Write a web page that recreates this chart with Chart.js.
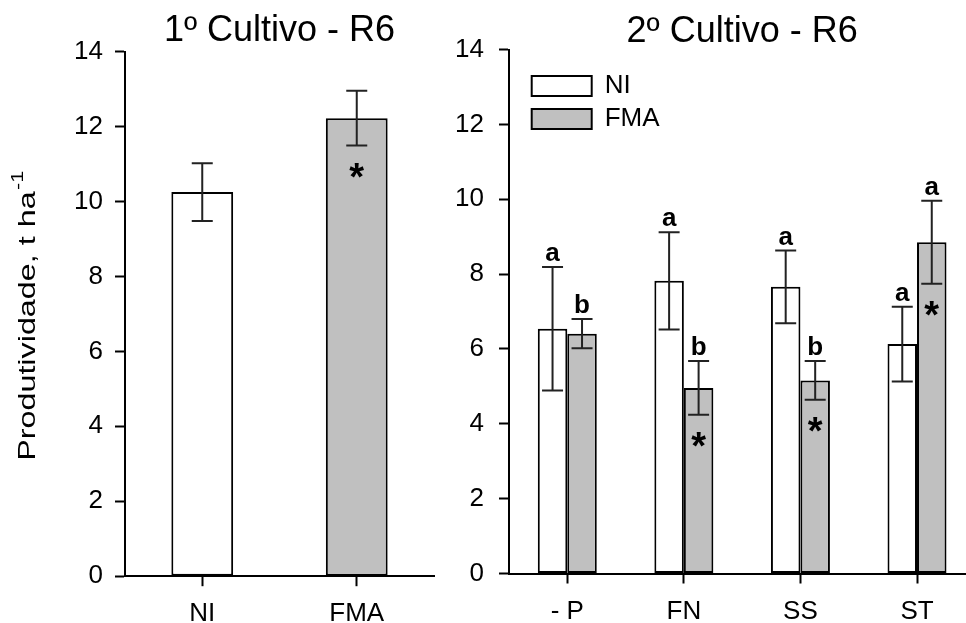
<!DOCTYPE html>
<html>
<head>
<meta charset="utf-8">
<script src="https://cdn.jsdelivr.net/npm/chart.js@4.4.1/dist/chart.umd.min.js"></script>
<style>
html,body{margin:0;padding:0;background:#fff;overflow:hidden;width:966px;height:623px;position:relative;}
canvas{position:absolute;top:0;}
#c1{left:0;}
#c2{left:400px;}
</style>
</head>
<body>
<canvas id="c1" width="470" height="623"></canvas>
<canvas id="c2" width="600" height="623"></canvas>
<script>
// ---------- data ----------
const leftTitle = '1º Cultivo - R6';
const rightTitle = '2º Cultivo - R6';
const yAxisTitle = 'Produtividade, t ha';
const yAxisTitleSup = '-1';

const leftCategories = ['NI', 'FMA'];
const leftMeans = [10.25, 12.22];
const leftErrors = [0.77, 0.73];
const leftStars = ['', '*'];

const rightCategories = ['- P', 'FN', 'SS', 'ST'];
const seriesNames = ['NI', 'FMA'];
const niMeans = [6.54, 7.82, 7.66, 6.13];
const niErrors = [1.65, 1.30, 0.97, 1.00];
const fmaMeans = [6.41, 4.96, 5.16, 8.85];
const fmaErrors = [0.39, 0.72, 0.52, 1.11];
const niLetters = ['a', 'a', 'a', 'a'];
const fmaLetters = ['b', 'b', 'b', 'a'];
const niStars = ['', '', '', ''];
const fmaStars = ['', '*', '*', '*'];

const yMin = 0, yMax = 14, yStep = 2;

// ---------- styles ----------
const FONT = "'Liberation Sans', Arial, Helvetica, sans-serif";
const WHITE = '#ffffff';
const GRAY = '#c0c0c0';
const INK = '#000000';
Chart.defaults.font.family = FONT;
Chart.defaults.color = INK;

const errorBarPlugin = {
  id: 'errorBars',
  afterDatasetsDraw(chart, args, opts) {
    const ctx = chart.ctx;
    const yScale = chart.scales.y;
    const cap = 10.5;
    chart.data.datasets.forEach((ds, i) => {
      const meta = chart.getDatasetMeta(i);
      const errs = (opts.errors && opts.errors[i]) || [];
      const letters = (opts.letters && opts.letters[i]) || [];
      const stars = (opts.stars && opts.stars[i]) || [];
      meta.data.forEach((bar, j) => {
        const v = ds.data[j], e = errs[j] || 0;
        const x = bar.x;
        const yHi = yScale.getPixelForValue(v + e);
        const yLo = yScale.getPixelForValue(v - e);
        ctx.save();
        ctx.strokeStyle = '#222222';
        ctx.lineWidth = 2;
        ctx.beginPath();
        ctx.moveTo(x, yLo); ctx.lineTo(x, yHi);
        ctx.moveTo(x - cap, yHi); ctx.lineTo(x + cap, yHi);
        ctx.moveTo(x - cap, yLo); ctx.lineTo(x + cap, yLo);
        ctx.stroke();
        ctx.fillStyle = INK;
        if (letters[j]) {
          ctx.font = 'bold 26px ' + FONT;
          ctx.textAlign = 'center';
          ctx.textBaseline = 'alphabetic';
          ctx.fillText(letters[j], x, yHi - 6);
        }
        if (stars[j]) {
          ctx.font = 'bold 38px ' + FONT;
          ctx.textAlign = 'center';
          ctx.textBaseline = 'alphabetic';
          const m = ctx.measureText(stars[j]);
          const target = yLo + 25;
          const yb = target + (m.actualBoundingBoxAscent - m.actualBoundingBoxDescent) / 2;
          ctx.fillText(stars[j], x, yb);
        }
        ctx.restore();
      });
    });
  }
};

const yTitlePlugin = {
  id: 'yTitle',
  afterDraw(chart, args, opts) {
    if (!opts.text) return;
    const ctx = chart.ctx;
    const ca = chart.chartArea;
    ctx.save();
    ctx.translate(opts.x, (ca.top + ca.bottom) / 2 + opts.dy);
    ctx.rotate(-Math.PI / 2);
    ctx.fillStyle = INK;
    ctx.textBaseline = 'alphabetic';
    ctx.textAlign = 'left';
    const supSize = Math.round(opts.size * 0.68);
    ctx.font = opts.size + 'px ' + FONT;
    const w1 = ctx.measureText(opts.text).width;
    ctx.font = supSize + 'px ' + FONT;
    const w2 = ctx.measureText(opts.sup).width;
    const total = w1 + w2 + 1;
    const s = opts.length / total;
    ctx.scale(s, 1);
    const start = -total / 2;
    ctx.font = opts.size + 'px ' + FONT;
    ctx.fillText(opts.text, start, 0);
    ctx.font = supSize + 'px ' + FONT;
    ctx.fillText(opts.sup, start + w1 + 1, -opts.size * 0.48);
    ctx.restore();
  }
};

const legendPlacePlugin = {
  id: 'legendPlace',
  afterLayout(chart, args, opts) {
    if (chart.legend && opts.dx !== undefined) {
      chart.legend.left = chart.chartArea.left + opts.dx;
      chart.legend.top = chart.chartArea.top + opts.dy;
    }
  }
};

function yScaleOpts(width, pad) {
  return {
    min: yMin, max: yMax,
    ticks: { stepSize: yStep, padding: pad, font: { size: 26 }, color: INK },
    grid: { drawOnChartArea: false, drawTicks: true, tickLength: 10, tickColor: INK, tickWidth: 2 },
    border: { display: true, color: INK, width: 2 },
    afterFit(scale) { scale.width = width; }
  };
}
function xScaleOpts(height, pad) {
  return {
    offset: true,
    ticks: { padding: pad, font: { size: 26 }, color: INK, maxRotation: 0, autoSkip: false },
    grid: { offset: false, drawOnChartArea: false, drawTicks: true, tickLength: 10, tickColor: INK, tickWidth: 2 },
    border: { display: true, color: INK, width: 2 },
    afterFit(scale) { scale.height = height; }
  };
}

// ---------- left chart ----------
new Chart(document.getElementById('c1'), {
  type: 'bar',
  data: {
    labels: leftCategories,
    datasets: [{
      label: 'Produtividade',
      data: leftMeans,
      backgroundColor: [WHITE, GRAY],
      borderColor: INK,
      borderWidth: 2,
      borderSkipped: false,
      categoryPercentage: 0.4,
      barPercentage: 1.0
    }]
  },
  options: {
    responsive: false,
    animation: false,
    layout: { padding: { top: 0, right: 36, bottom: 0, left: 0 } },
    scales: { x: xScaleOpts(46.8, 12.5), y: yScaleOpts(125, 12) },
    plugins: {
      legend: { display: false },
      tooltip: { enabled: false },
      title: {
        display: true, text: leftTitle, fullSize: false, align: 'center',
        font: { size: 36, weight: 'normal', lineHeight: 0.95 }, color: INK,
        padding: { top: 14.2, bottom: 3.1 }
      },
      errorBars: { errors: [leftErrors], stars: [leftStars] },
      yTitle: { text: yAxisTitle, sup: yAxisTitleSup, size: 24, x: 35, dy: 2, length: 290 }
    }
  },
  plugins: [errorBarPlugin, yTitlePlugin]
});

// ---------- right chart ----------
new Chart(document.getElementById('c2'), {
  type: 'bar',
  data: {
    labels: rightCategories,
    datasets: [
      { label: seriesNames[0], data: niMeans, backgroundColor: WHITE, borderColor: INK, borderWidth: 2, borderSkipped: false },
      { label: seriesNames[1], data: fmaMeans, backgroundColor: GRAY, borderColor: INK, borderWidth: 2, borderSkipped: false }
    ]
  },
  options: {
    responsive: false,
    animation: false,
    datasets: { bar: { categoryPercentage: 0.506, barPercentage: 1.0 } },
    layout: { padding: { top: 0, right: 24.7, bottom: 0, left: 0 } },
    scales: { x: xScaleOpts(49.5, 12.5), y: yScaleOpts(109, 15) },
    plugins: {
      legend: {
        display: true, position: 'chartArea', align: 'start',
        labels: { boxWidth: 60, boxHeight: 20, padding: 7, font: { size: 26 }, color: INK }
      },
      legendPlace: { dx: 15.7, dy: 16.5 },
      tooltip: { enabled: false },
      title: {
        display: true, text: rightTitle, fullSize: false, align: 'center',
        font: { size: 36, weight: 'normal', lineHeight: 0.95 }, color: INK,
        padding: { top: 15.4, bottom: 0 }
      },
      errorBars: { errors: [niErrors, fmaErrors], letters: [niLetters, fmaLetters], stars: [niStars, fmaStars] }
    }
  },
  plugins: [errorBarPlugin, legendPlacePlugin]
});
</script>
</body>
</html>
